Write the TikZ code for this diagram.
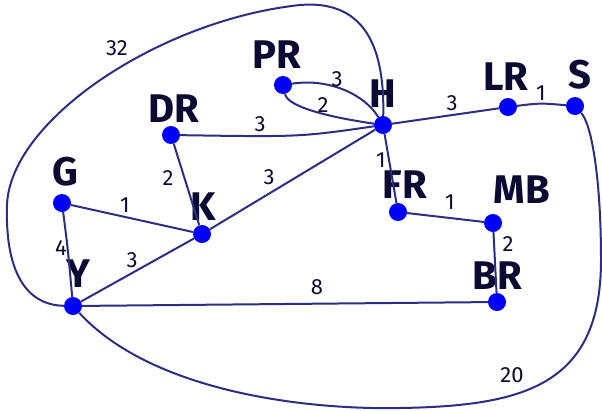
\documentclass[tikz,border=0pt]{standalone}
\usepackage{fontspec}
\setmainfont{Fira Sans}
\definecolor{edgec}{RGB}{45,45,130}
\definecolor{nodec}{RGB}{0,0,250}
\definecolor{txtc}{RGB}{10,10,50}
\begin{document}
\begin{tikzpicture}[x=1pt,y=-1pt,
  vert/.style={circle,fill=nodec,inner sep=0pt,minimum size=18pt},
  vlab/.style={text=txtc,font=\fontsize{40}{40}\selectfont\bfseries,inner sep=0pt},
  elab/.style={text=txtc,font=\fontsize{22}{22}\selectfont,inner sep=0pt},
  edge/.style={draw=edgec,line width=2pt}]
\useasboundingbox (0,0) rectangle (602,410);
% vertices
\node[vert] (PR) at (283,85) {};
\node[vert] (H) at (383,125) {};
\node[vert] (DR) at (171,135) {};
\node[vert] (LR) at (508,107) {};
\node[vert] (S) at (575,106) {};
\node[vert] (G) at (62,203) {};
\node[vert] (K) at (202,234) {};
\node[vert] (FR) at (398,212) {};
\node[vert] (MB) at (493,223) {};
\node[vert] (BR) at (497,302) {};
\node[vert] (Y) at (73,306) {};
% vertex labels
\node[vlab] (lPR) at (277,55) {PR};
\node[vlab] (lH) at (383,94) {H};
\node[vlab] (lDR) at (174,109) {DR};
\node[vlab] (lLR) at (506,77) {LR};
\node[vlab] (lS) at (580,75) {S};
\node[vlab] (lG) at (65,172) {G};
\node[vlab] (lK) at (203,207) {K};
\node[vlab] (lFR) at (405,185) {FR};
\node[vlab] (lMB) at (522,190) {MB};
\node[vlab] (lBR) at (497,276) {BR};
\node[vlab] (lY) at (78,274) {Y};
% edges
\draw[edge] (Y) .. controls (25,305) and (5,270) .. (7,205)
  .. controls (10,120) and (160,20) .. (300,5)
  .. controls (360,0) and (385,40) .. (H);
\draw[edge] (Y) .. controls (150,390) and (300,410) .. (400,408)
  .. controls (525,406) and (601,385) .. (601,260)
  .. controls (601,180) and (592,125) .. (S);
\draw[edge] (PR) .. controls (330,78) and (365,95) .. (H);
\draw[edge] (PR) .. controls (288,108) and (335,118) .. (H);
\draw[edge] (DR) .. controls (300,137) .. (H);
\draw[edge] (H) -- (LR);
\draw[edge] (LR) .. controls (540,103) .. (S);
\draw[edge] (H) -- (FR);
\draw[edge] (DR) -- (K);
\draw[edge] (K) -- (H);
\draw[edge] (G) -- (K);
\draw[edge] (FR) -- (MB);
\draw[edge] (G) .. controls (68,250) .. (Y);
\draw[edge] (Y) -- (K);
\draw[edge] (MB) -- (BR);
\draw[edge] (Y) -- (BR);
% edge labels
\node[elab] (w32) at (117,48) {32};
\node[elab] (wPRH1) at (337,79) {3};
\node[elab] (wPRH2) at (323,105) {2};
\node[elab] (wDRH) at (260,124) {3};
\node[elab] (wHLR) at (452,103) {3};
\node[elab] (wLRS) at (541,93) {1};
\node[elab] (wHFR) at (381,160) {1};
\node[elab] (wDRK) at (168,178) {2};
\node[elab] (wKH) at (269,177) {3};
\node[elab] (wGK) at (125,205) {1};
\node[elab] (wFRMB) at (450,202) {1};
\node[elab] (wGY) at (61,248) {4};
\node[elab] (wYK) at (132,260) {3};
\node[elab] (wMBBR) at (508,244) {2};
\node[elab] (wYBR) at (317,287) {8};
\node[elab] (wYS) at (512,375) {20};
\end{tikzpicture}
\end{document}
